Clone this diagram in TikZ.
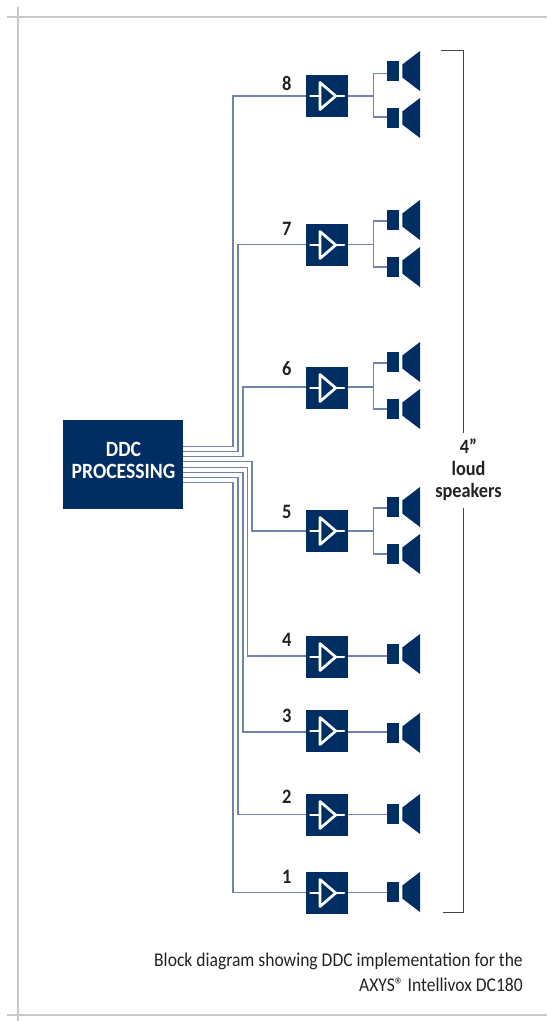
\documentclass[tikz,border=0pt]{standalone}
\usepackage{fontspec}
\setmainfont[FakeStretch=0.9]{Carlito}
\definecolor{navy}{HTML}{002D62}
\definecolor{wire}{HTML}{6F83AE}
\definecolor{crop}{HTML}{C8C8CC}
\definecolor{ink}{HTML}{222222}
\newcommand{\ampsym}[1]{%
  \draw[ampline] ([xshift=-16.5pt]#1.center) -- ([xshift=-7pt]#1.center);
  \draw[ampline] ([xshift=8.7pt]#1.center) -- ([xshift=17pt]#1.center);
  \draw[ampline,line join=round] ([xshift=-7pt,yshift=13.5pt]#1.center) -- ([xshift=8.7pt]#1.center) -- ([xshift=-7pt,yshift=-13.5pt]#1.center) -- cycle;}
\newcommand{\spk}[2]{% name, y
  \node[magnet] (#1) at (393,#2) {};
  \fill[navy] (402.3,#2-6.5) -- (420,#2-20) -- (420,#2+20) -- (402.3,#2+6.5) -- cycle;}
\tikzset{
  x=1pt,y=-1pt,
  ampbox/.style={fill=navy,minimum width=42pt,minimum height=42pt,inner sep=0pt,draw=none},
  ampline/.style={white,line width=2.7pt,line cap=round},
  magnet/.style={fill=navy,minimum width=12pt,minimum height=20pt,inner sep=0pt,draw=none},
  wireline/.style={wire,line width=1.3pt},
  cropline/.style={crop,line width=1.2pt},
  bracketline/.style={ink!85,line width=1.3pt},
  numlabel/.style={font=\fontsize{20.5}{22}\selectfont\bfseries,text=ink,inner sep=0pt},
}
\begin{document}
\begin{tikzpicture}
\useasboundingbox (0,0) rectangle (547,1021);
\draw[cropline] (7,17) -- (547,17);
\draw[cropline] (7,1015) -- (547,1015);
\draw[cropline] (18,7) -- (18,1021);

\node[fill=navy,minimum width=120pt,minimum height=89pt,inner sep=0pt] (ddc) at (123,464.5) {};
\node[align=center,inner sep=0pt,anchor=base,text=white,
  font=\fontsize{21.8}{21.5}\selectfont\bfseries] (ddct) at (123.5,478) {DDC\\PROCESSING};

\foreach \n/\y in {8/96,7/245,6/388,5/531,4/657,3/731,2/815,1/893}{
  \node[ampbox] (a\n) at (327,\y) {};
  \ampsym{a\n}
}
\foreach \n/\y in {8/83,7/229,6/369,5/512,4/640,3/716,2/797,1/877}{
  \node[numlabel] (n\n) at (286.7,\y) {\n};
}
% trunk connectors
\foreach \n/\py/\tx/\ly in {8/446.7/233/96,7/451.7/238/244.5,6/456.7/243/387,5/461.7/252/531,4/467.2/247.5/656,3/472.2/243/732,2/477.4/238/814.5,1/482.5/233/892.7}{
  \coordinate (p\n) at (183,\py);
  \coordinate (t\n) at (\tx,\py);
  \coordinate (w\n) at (306,\ly);
  \draw[wireline] (p\n) -- (t\n) |- (w\n);
}
% paired speakers
\foreach \n/\ya/\yb/\ba/\bb/\ly in {8/71/118/73.7/117/96,7/220/267/221/267/244.5,6/362/409/363/409/387,5/507/554/508/554/531}{
  \spk{sa\n}{\ya}
  \spk{sb\n}{\yb}
  \coordinate (o\n) at (348,\ly);
  \coordinate (j\n) at (373.7,\ly);
  \coordinate (ia\n) at (387,\ba);
  \coordinate (ib\n) at (387,\bb);
  \draw[wireline] (o\n) -- (j\n);
  \draw[wireline] (ia\n) -| (j\n);
  \draw[wireline] (ib\n) -| (j\n);
}
% single speakers
\foreach \n/\y/\ly in {4/654/656,3/733/732,2/814/814.5,1/892/892.7}{
  \spk{s\n}{\y}
  \coordinate (o\n) at (348,\ly);
  \coordinate (i\n) at (387,\ly);
  \draw[wireline] (o\n) -- (i\n);
}
% bracket
\coordinate (br1) at (441,50.3);
\coordinate (br2) at (463.8,50.3);
\coordinate (br3) at (463.8,432.7);
\coordinate (br4) at (463.8,508);
\coordinate (br5) at (463.8,912.7);
\coordinate (br6) at (442.7,912.7);
\draw[bracketline] (br1) -- (br2) -- (br3);
\draw[bracketline] (br4) -- (br5) -- (br6);
\node[align=center,inner sep=0pt,anchor=base,text=ink,font=\fontsize{20.3}{22}\selectfont\bfseries] (lbl) at (468.5,497) {4”\\loud\\speakers};
\node[align=right,inner sep=0pt,anchor=base east,text=ink,font=\fontsize{19.5}{25.5}\selectfont] (cap) at (523,991.7) {Block diagram showing DDC implementation for the\\AXYS® Intellivox DC180};
\end{tikzpicture}
\end{document}
